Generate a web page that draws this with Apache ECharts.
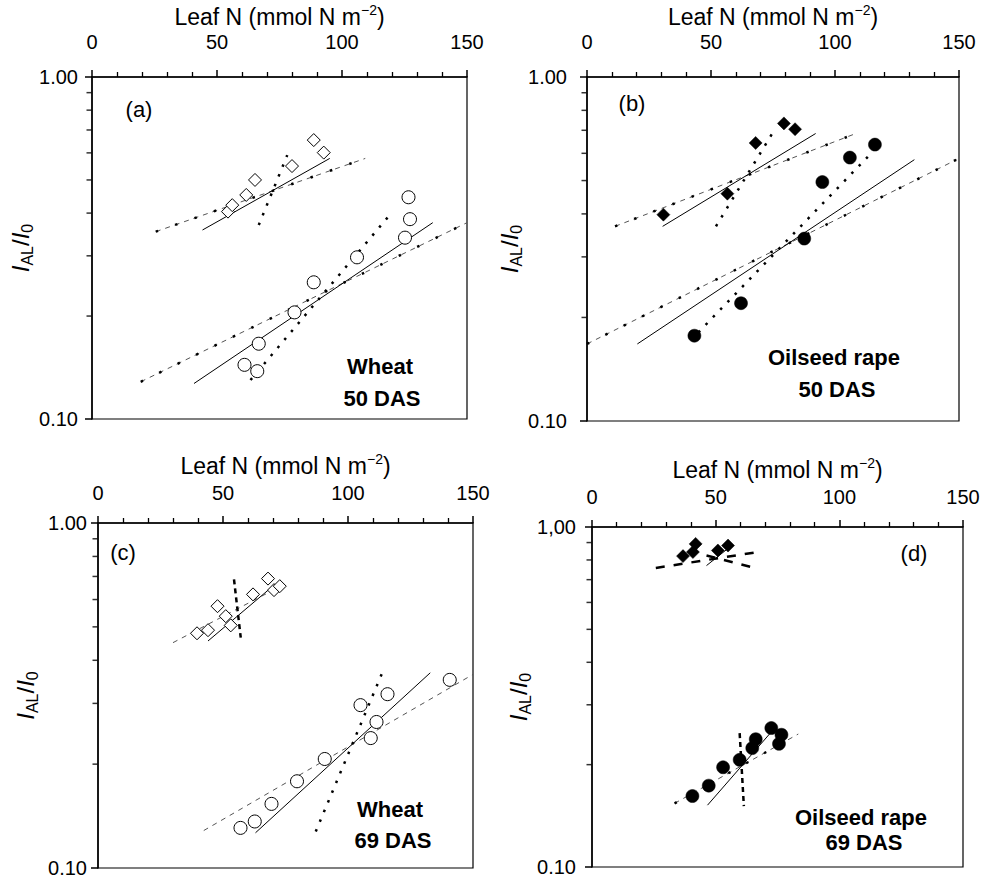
<!DOCTYPE html>
<html><head><meta charset="utf-8">
<script src="https://cdn.jsdelivr.net/npm/echarts@6/dist/echarts.min.js"></script>
<style>html,body{margin:0;padding:0;background:#fff}#c{width:984px;height:878px}</style>
</head><body><div id="c"></div>
<script>
// ---------- axes ----------
const xMin = 0, xMax = 150, xInterval = 50;
const yMin = 0.1, yMax = 1;
const yMinorTicks = [0.2, 0.3, 0.4, 0.5, 0.6, 0.7, 0.8, 0.9];
const yTopLabels = ['1.00', '1.00', '1.00', '1,00'];
const yBottomLabel = '0.10';

// ---------- panel (a) Wheat 50 DAS ----------
const aDiamondN = [54.4, 56.1, 61.7, 65.2, 80.0, 88.7, 92.7];
const aDiamondI = [0.404, 0.422, 0.452, 0.500, 0.549, 0.654, 0.601];
const aCircleN = [61.0, 66.1, 66.7, 81.0, 88.7, 106.0, 125.2, 127.2, 126.6];
const aCircleI = [0.144, 0.138, 0.166, 0.205, 0.251, 0.297, 0.339, 0.384, 0.445];
const aDiamondSolid = [[44.2, 0.357], [95.1, 0.578]];
const aDiamondDash = [[25.5, 0.353], [109.3, 0.578]];
const aDiamondSteep = [[66.7, 0.369], [78.1, 0.591]];
const aCircleSolid = [[40.8, 0.127], [136.3, 0.375]];
const aCircleDash = [[19.5, 0.1285], [150.0, 0.375]];
const aCircleSteep = [[63.4, 0.130], [118.6, 0.391]];

// ---------- panel (b) Oilseed rape 50 DAS ----------
const bDiamondN = [30.8, 56.6, 68.0, 79.4, 83.9];
const bDiamondI = [0.398, 0.458, 0.643, 0.733, 0.705];
const bCircleN = [43.3, 62.1, 87.6, 94.9, 106.0, 116.1];
const bCircleI = [0.177, 0.220, 0.339, 0.495, 0.583, 0.636];
const bDiamondSolid = [[30.5, 0.368], [92.2, 0.685]];
const bDiamondDash = [[11.3, 0.368], [108.4, 0.685]];
const bDiamondSteep = [[52.0, 0.368], [75.1, 0.693]];
const bCircleSolid = [[20.3, 0.1675], [132.0, 0.575]];
const bCircleDash = [[0, 0.1675], [149.0, 0.575]];
const bCircleSteep = [[44.9, 0.181], [113.8, 0.592]];

// ---------- panel (c) Wheat 69 DAS ----------
const cDiamondN = [39.6, 44.0, 47.8, 51.1, 53.1, 62.0, 68.0, 70.4, 72.7];
const cDiamondI = [0.479, 0.489, 0.574, 0.537, 0.505, 0.621, 0.690, 0.639, 0.656];
const cCircleN = [57.0, 62.7, 69.4, 79.6, 90.7, 105.0, 109.1, 111.4, 115.8, 140.7];
const cCircleI = [0.1307, 0.1364, 0.1534, 0.1784, 0.207, 0.2965, 0.238, 0.265, 0.319, 0.351];
const cDiamondSolid = [[44.0, 0.455], [70.7, 0.663]];
const cDiamondDash = [[30.0, 0.450], [76.0, 0.673]];
const cDiamondSteep = [[54.4, 0.686], [57.1, 0.465]];
const cCircleSolid = [[63.0, 0.1265], [132.9, 0.368]];
const cCircleDash = [[42.3, 0.1284], [150.0, 0.364]];
const cCircleSteep = [[87.1, 0.1276], [114.0, 0.3725]];

// ---------- panel (d) Oilseed rape 69 DAS ----------
const dDiamondN = [36.8, 40.8, 41.9, 50.9, 55.0];
const dDiamondI = [0.821, 0.844, 0.892, 0.853, 0.882];
const dCircleN = [40.6, 47.2, 53.0, 59.7, 64.8, 66.2, 72.5, 75.6, 76.6];
const dCircleI = [0.1617, 0.1735, 0.1965, 0.2066, 0.2237, 0.2377, 0.2563, 0.2303, 0.2449];
const dDiamondSolid = [[46.3, 0.770], [55.7, 0.873]];
const dDiamondDashA = [[25.8, 0.758], [67.1, 0.844]];
const dDiamondDashB = [[46.3, 0.824], [64.9, 0.761]];
const dCircleSolid = [[46.7, 0.152], [72.1, 0.2477]];
const dCircleDash = [[33.4, 0.1539], [83.4, 0.2461]];
const dCircleSteep = [[59.7, 0.2477], [61.4, 0.151]];

// ---------- text ----------
const panelLetters = ['(a)', '(b)', '(c)', '(d)'];
const cropLabels = [['Wheat', '50 DAS'], ['Oilseed rape', '50 DAS'], ['Wheat', '69 DAS'], ['Oilseed rape', '69 DAS']];

const FONT = '"Liberation Sans", Arial, sans-serif';

const grids = [
  {left: 92, top: 77, width: 375, height: 342},
  {left: 587, top: 77, width: 372, height: 344},
  {left: 98, top: 523, width: 375, height: 346},
  {left: 592, top: 527, width: 371, height: 340}
];
const xNameGap = [37, 37, 43, 43];
const xLabelMargin = [25, 25, 20, 20];
const yNameGap = [52, 32, 58, 37];
const yLabelMargin = [14, 20, 11, 16];

const xAxes = grids.map((g, i) => ({
  gridIndex: i, type: 'value', position: 'top', min: xMin, max: xMax, interval: xInterval,
  name: 'Leaf N (mmol N m{sup|\u22122})', nameLocation: 'middle', nameGap: xNameGap[i],
  nameTextStyle: {fontSize: 23, fontFamily: FONT, color: '#000', lineHeight: 28,
    rich: {sup: {fontSize: 14, fontFamily: FONT, color: '#000', verticalAlign: 'top', lineHeight: 14}}},
  axisLine: {show: true, onZero: false, lineStyle: {color: '#000', width: 1.5}},
  axisTick: {show: true, inside: false, length: 7, lineStyle: {color: '#000', width: 1.5}},
  minorTick: {show: true, splitNumber: 5, length: 5, lineStyle: {color: '#000', width: 1.3}},
  axisLabel: {fontSize: 20, fontFamily: FONT, color: '#000', margin: xLabelMargin[i], showMinLabel: true, showMaxLabel: true},
  splitLine: {show: false}, minorSplitLine: {show: false}
}));

const yAxes = grids.map((g, i) => ({
  gridIndex: i, type: 'log', logBase: 10, min: yMin, max: yMax,
  name: '{i|I}{s|AL}{n|/}{i|I}{s|0}', nameLocation: 'middle', nameGap: yNameGap[i], nameRotate: 90,
  nameTextStyle: {color: '#000', rich: {
    i: {fontSize: 24, fontStyle: 'italic', fontFamily: FONT, color: '#000', lineHeight: 30, verticalAlign: 'middle'},
    n: {fontSize: 24, fontFamily: FONT, color: '#000', lineHeight: 30, verticalAlign: 'middle'},
    s: {fontSize: 16, fontFamily: FONT, color: '#000', lineHeight: 16, verticalAlign: 'bottom'}
  }},
  axisLine: {show: true, onZero: false, lineStyle: {color: '#000', width: 1.5}},
  axisTick: {show: true, inside: false, length: 7, lineStyle: {color: '#000', width: 1.5}},
  axisLabel: {fontSize: 20, fontFamily: FONT, color: '#000', margin: yLabelMargin[i], showMinLabel: true, showMaxLabel: true,
    formatter: v => (Math.abs(v - 1) < 1e-9 ? yTopLabels[i] : yBottomLabel)},
  splitLine: {show: false}, minorTick: {show: false}
}));

const STY = {
  solid: {color: '#000', width: 1, type: 'solid'},
  dash: {color: '#555', width: 1, type: [5, 5]},
  dots: {color: '#000', width: 2.5, type: [2.5, 8], cap: 'butt'},
  sparse: {color: '#000', width: 2.5, type: [2.5, 18], cap: 'butt'},
  thickdash: {color: '#000', width: 2.5, type: [9, 9], cap: 'butt'},
  vdash: {color: '#000', width: 2.5, type: [5, 4], cap: 'butt'}
};
function lineS(gi, data, kind) {
  return {type: 'line', xAxisIndex: gi, yAxisIndex: gi, data: data, symbol: 'none', silent: true,
    clip: false, z: 2, lineStyle: STY[kind], animation: false};
}
function scat(gi, xs, ys, symbol, filled, size) {
  return {type: 'scatter', xAxisIndex: gi, yAxisIndex: gi, symbol: symbol, symbolSize: size, z: 5,
    data: xs.map((x, k) => [x, ys[k]]), silent: true, animation: false,
    itemStyle: filled ? {color: '#000', borderColor: '#000', borderWidth: 0.5, opacity: 1}
                      : {color: '#fff', borderColor: '#000', borderWidth: 1, opacity: 1}};
}
// log-axis minor ticks (0.2 ... 0.9) as short marks placed by the y scale
function yMinor(gi) {
  return {type: 'scatter', xAxisIndex: gi, yAxisIndex: gi, clip: false, silent: true, z: 6, animation: false,
    symbol: 'rect', symbolSize: [5, 1.5], symbolOffset: [-3, 0],
    itemStyle: {color: '#000', borderWidth: 0}, data: yMinorTicks.map(v => [xMin, v])};
}

const series = [
  // (a)
  lineS(0, aDiamondDash, 'dash'), lineS(0, aDiamondDash, 'sparse'), lineS(0, aDiamondSolid, 'solid'), lineS(0, aDiamondSteep, 'dots'),
  lineS(0, aCircleDash, 'dash'), lineS(0, aCircleDash, 'sparse'), lineS(0, aCircleSolid, 'solid'), lineS(0, aCircleSteep, 'dots'),
  scat(0, aDiamondN, aDiamondI, 'diamond', false, 13), scat(0, aCircleN, aCircleI, 'circle', false, 13),
  // (b)
  lineS(1, bDiamondDash, 'dash'), lineS(1, bDiamondDash, 'sparse'), lineS(1, bDiamondSolid, 'solid'), lineS(1, bDiamondSteep, 'dots'),
  lineS(1, bCircleDash, 'dash'), lineS(1, bCircleDash, 'sparse'), lineS(1, bCircleSolid, 'solid'), lineS(1, bCircleSteep, 'dots'),
  scat(1, bDiamondN, bDiamondI, 'diamond', true, 13), scat(1, bCircleN, bCircleI, 'circle', true, 13),
  // (c)
  lineS(2, cDiamondDash, 'dash'), lineS(2, cDiamondSolid, 'solid'), lineS(2, cDiamondSteep, 'vdash'),
  lineS(2, cCircleDash, 'dash'), lineS(2, cCircleSolid, 'solid'), lineS(2, cCircleSteep, 'dots'),
  scat(2, cDiamondN, cDiamondI, 'diamond', false, 13), scat(2, cCircleN, cCircleI, 'circle', false, 13),
  // (d)
  lineS(3, dDiamondDashA, 'thickdash'), lineS(3, dDiamondDashB, 'thickdash'), lineS(3, dDiamondSolid, 'solid'),
  lineS(3, dCircleDash, 'dash'), lineS(3, dCircleDash, 'sparse'), lineS(3, dCircleSolid, 'solid'), lineS(3, dCircleSteep, 'vdash'),
  scat(3, dDiamondN, dDiamondI, 'diamond', true, 13), scat(3, dCircleN, dCircleI, 'circle', true, 13),
  yMinor(0), yMinor(1), yMinor(2), yMinor(3)
];

const letterPos = [[139, 109], [632, 103], [123, 552], [914, 553]];
const cropPos = [[[380, 366], [382, 398]], [[834, 357], [837, 389]], [[390, 809], [393, 840]], [[861, 817], [864, 842]]];
const graphic = [];
panelLetters.forEach((t, i) => graphic.push({type: 'text', x: letterPos[i][0], y: letterPos[i][1], silent: true,
  style: {text: t, font: '22px ' + FONT, fill: '#000', align: 'center', verticalAlign: 'middle'}}));
cropLabels.forEach((pair, i) => pair.forEach((t, k) => graphic.push({type: 'text', x: cropPos[i][k][0], y: cropPos[i][k][1], silent: true,
  style: {text: t, font: 'bold 22px ' + FONT, fill: '#000', align: 'center', verticalAlign: 'middle'}})));

const chart = echarts.init(document.getElementById('c'), null, {renderer: 'svg', width: 984, height: 878});
chart.setOption({
  backgroundColor: '#fff',
  animation: false,
  grid: grids.map(g => Object.assign({show: true, borderColor: '#000', borderWidth: 1.2, backgroundColor: 'transparent', containLabel: false}, g)),
  xAxis: xAxes,
  yAxis: yAxes,
  series: series,
  graphic: graphic
});
</script></body></html>
